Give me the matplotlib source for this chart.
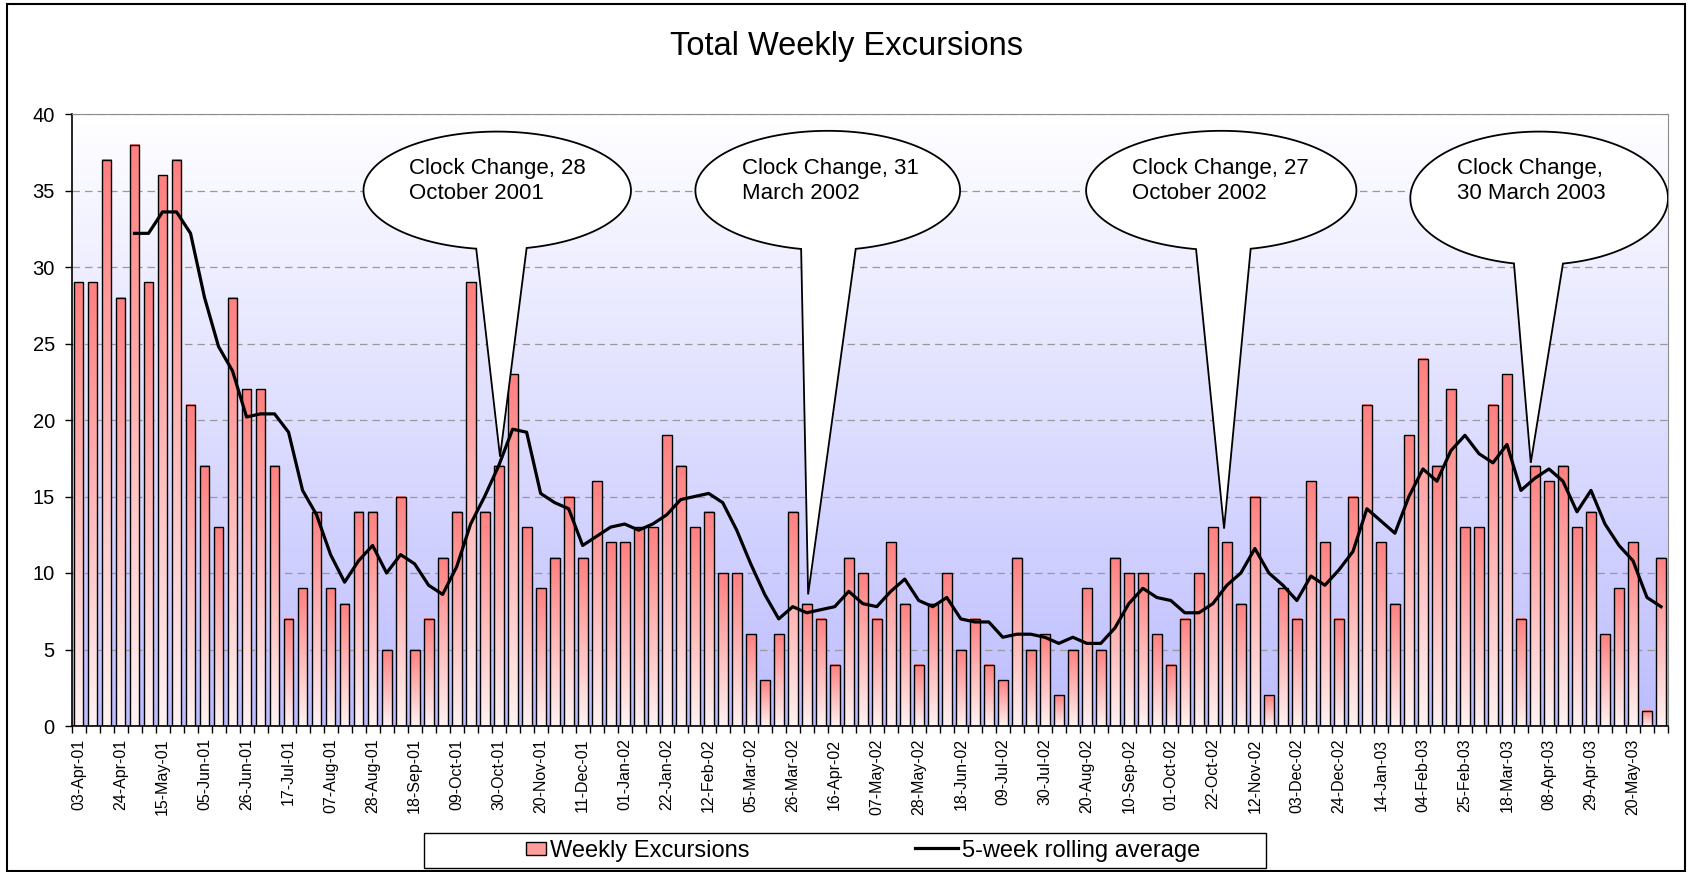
import matplotlib
matplotlib.use("Agg")
import matplotlib.pyplot as plt
import numpy as np
from matplotlib.legend_handler import HandlerPatch
from matplotlib.lines import Line2D
from matplotlib.patches import Polygon, Rectangle

plt.rcParams["font.family"] = ["Liberation Sans", "DejaVu Sans"]

# weekly counts, first week 03-Apr-01
weekly_excursions = [
    29, 29, 37, 28, 38, 29, 36, 37, 21, 17,
    13, 28, 22, 22, 17, 7, 9, 14, 9, 8,
    14, 14, 5, 15, 5, 7, 11, 14, 29, 14,
    17, 23, 13, 9, 11, 15, 11, 16, 12, 12,
    13, 13, 19, 17, 13, 14, 10, 10, 6, 3,
    6, 14, 8, 7, 4, 11, 10, 7, 12, 8,
    4, 8, 10, 5, 7, 4, 3, 11, 5, 6,
    2, 5, 9, 5, 11, 10, 10, 6, 4, 7,
    10, 13, 12, 8, 15, 2, 9, 7, 16, 12,
    7, 15, 21, 12, 8, 19, 24, 17, 22, 13,
    13, 21, 23, 7, 17, 16, 17, 13, 14, 6,
    9, 12, 1, 11,
]

# 5-week rolling average, first value sits on week 5
rolling_start = 4
rolling_average = [
    32.2, 32.2, 33.6, 33.6, 32.2, 28.0, 24.8, 23.2, 20.2, 20.4,
    20.4, 19.2, 15.4, 13.8, 11.2, 9.4, 10.8, 11.8, 10.0, 11.2,
    10.6, 9.2, 8.6, 10.4, 13.2, 15.0, 17.0, 19.4, 19.2, 15.2,
    14.6, 14.2, 11.8, 12.4, 13.0, 13.2, 12.8, 13.2, 13.8, 14.8,
    15.0, 15.2, 14.6, 12.8, 10.6, 8.6, 7.0, 7.8, 7.4, 7.6,
    7.8, 8.8, 8.0, 7.8, 8.8, 9.6, 8.2, 7.8, 8.4, 7.0,
    6.8, 6.8, 5.8, 6.0, 6.0, 5.8, 5.4, 5.8, 5.4, 5.4,
    6.4, 8.0, 9.0, 8.4, 8.2, 7.4, 7.4, 8.0, 9.2, 10.0,
    11.6, 10.0, 9.2, 8.2, 9.8, 9.2, 10.2, 11.4, 14.2, 13.4,
    12.6, 15.0, 16.8, 16.0, 18.0, 19.0, 17.8, 17.2, 18.4, 15.4,
    16.2, 16.8, 16.0, 14.0, 15.4, 13.2, 11.8, 10.8, 8.4, 7.8,
]

tick_step = 3
tick_labels = [
    "03-Apr-01", "24-Apr-01", "15-May-01", "05-Jun-01", "26-Jun-01", "17-Jul-01",
    "07-Aug-01", "28-Aug-01", "18-Sep-01", "09-Oct-01", "30-Oct-01", "20-Nov-01",
    "11-Dec-01", "01-Jan-02", "22-Jan-02", "12-Feb-02", "05-Mar-02", "26-Mar-02",
    "16-Apr-02", "07-May-02", "28-May-02", "18-Jun-02", "09-Jul-02", "30-Jul-02",
    "20-Aug-02", "10-Sep-02", "01-Oct-02", "22-Oct-02", "12-Nov-02", "03-Dec-02",
    "24-Dec-02", "14-Jan-03", "04-Feb-03", "25-Feb-03", "18-Mar-03", "08-Apr-03",
    "29-Apr-03", "20-May-03",
]

# callout text and where the tail points (week index, value)
callout_texts = [
    "Clock Change, 28\nOctober 2001",
    "Clock Change, 31\nMarch 2002",
    "Clock Change, 27\nOctober 2002",
    "Clock Change,\n30 March 2003",
]
callout_tips = [(30.1, 17.6), (52.1, 8.6), (81.8, 12.9), (103.7, 17.2)]

# bubble layout: centre x, centre y, width, height, tail base left/right, text x
bubble_layout = [
    (29.9, 35.0, 19.1, 7.7, 28.4, 32.0, 23.6),
    (53.5, 35.0, 18.9, 7.8, 51.6, 55.5, 47.4),
    (81.6, 35.0, 19.3, 7.8, 79.8, 83.7, 75.2),
    (104.3, 34.5, 18.4, 8.7, 102.5, 106.0, 98.4),
]
text_y = 35.6


def gradient(top, bottom, n=256):
    t = np.linspace(0, 1, n)[:, None]
    top = np.array(top)[None, :]
    bottom = np.array(bottom)[None, :]
    return (bottom + (top - bottom) * t)[:, None, :]


def narrow_rect(legend, orig_handle, xdescent, ydescent, width, height, fontsize):
    w = 0.46 * width
    return Rectangle((-xdescent + width - w, -ydescent + 0.1 * height), w, 0.8 * height)


fig = plt.figure(figsize=(16.92, 8.72), dpi=100)
ax = fig.add_axes([71.5 / 1692, 1 - 726 / 872, 1596.5 / 1692, 612 / 872])

n = len(weekly_excursions)
x = np.arange(n)
ymax = 40

# plot-area background: white at top fading to lavender
ax.imshow(gradient((1.0, 1.0, 1.0), (0.74, 0.74, 1.0)), extent=(-0.5, n - 0.5, 0, ymax),
          origin="lower", aspect="auto", interpolation="bilinear", zorder=0)

# bars with vertical red gradient
bar_w = 0.7
bar_img = gradient((1.0, 0.5, 0.5), (1.0, 0.95, 0.95))
for xi, v in zip(x, weekly_excursions):
    ax.imshow(bar_img, extent=(xi - bar_w / 2, xi + bar_w / 2, 0, v), origin="lower",
              aspect="auto", interpolation="bilinear", zorder=2)
ax.bar(x, weekly_excursions, width=bar_w, facecolor="none", edgecolor="black",
       linewidth=1.0, zorder=3)

# callout bubbles
for text, tip, (cx, cy, w, h, bl, br, tx) in zip(callout_texts, callout_tips, bubble_layout):
    t_r = -np.arccos((br - cx) / (w / 2))
    t_l = -np.arccos((bl - cx) / (w / 2))
    ts = np.linspace(t_r, t_l + 2 * np.pi, 300)
    pts = np.column_stack([cx + w / 2 * np.cos(ts), cy + h / 2 * np.sin(ts)])
    pts = np.vstack([pts, [tip]])
    ax.add_patch(Polygon(pts, closed=True, facecolor="white", edgecolor="black",
                         linewidth=1.3, zorder=4))
    ax.text(tx, text_y, text, fontsize=16, ha="left", va="center",
            linespacing=1.25, zorder=5)

ax.plot(x[rolling_start:rolling_start + len(rolling_average)], rolling_average,
        color="black", linewidth=2.3, zorder=6)

ax.set_xlim(-0.5, n - 0.5)
ax.set_ylim(0, ymax)

ax.set_yticks(np.arange(0, ymax + 1, 5))
ax.tick_params(axis="y", direction="out", length=5, width=1, labelsize=14.5, pad=7)
ax.yaxis.grid(True, color="#999999", linewidth=0.9, dashes=(6, 4))
ax.set_axisbelow(True)

ax.set_xticks(x[::tick_step])
ax.set_xticklabels(tick_labels, rotation=90, fontsize=11.5)
ax.set_xticks(np.arange(-0.5, n, 1), minor=True)
ax.tick_params(axis="x", which="major", length=0, pad=9)
ax.tick_params(axis="x", which="minor", length=5, width=1)

for side in ("top", "right"):
    ax.spines[side].set_color("#8c8c8c")
for side in ("left", "bottom"):
    ax.spines[side].set_color("black")
    ax.spines[side].set_linewidth(1.2)

fig.text(0.5, 1 - 47 / 872, "Total Weekly Excursions", fontsize=23.5,
         ha="center", va="center")

# legend: frameless entries inside a drawn box
bar_handle = Rectangle((0, 0), 1, 1, facecolor="#ff9c9c", edgecolor="black", linewidth=1.0)
line_handle = Line2D([], [], color="black", linewidth=2.3)
fig.legend([bar_handle, line_handle], ["Weekly Excursions", "5-week rolling average"],
           loc="center", bbox_to_anchor=(852 / 1692, 1 - 850.5 / 872), ncol=2,
           frameon=False, fontsize=17, handlelength=1.8, handletextpad=0.2,
           columnspacing=7.0, handler_map={Rectangle: HandlerPatch(patch_func=narrow_rect)})
fig.add_artist(Rectangle((424 / 1692, 1 - 868 / 872), 842 / 1692, 35 / 872,
                         transform=fig.transFigure, fill=False, edgecolor="black",
                         linewidth=1.0))

# outer chart border
fig.add_artist(Rectangle((7 / 1692, 1 / 872), 1678 / 1692, 867 / 872,
                         transform=fig.transFigure, fill=False, edgecolor="black",
                         linewidth=1.5))

fig.savefig("out.png", dpi=100)
